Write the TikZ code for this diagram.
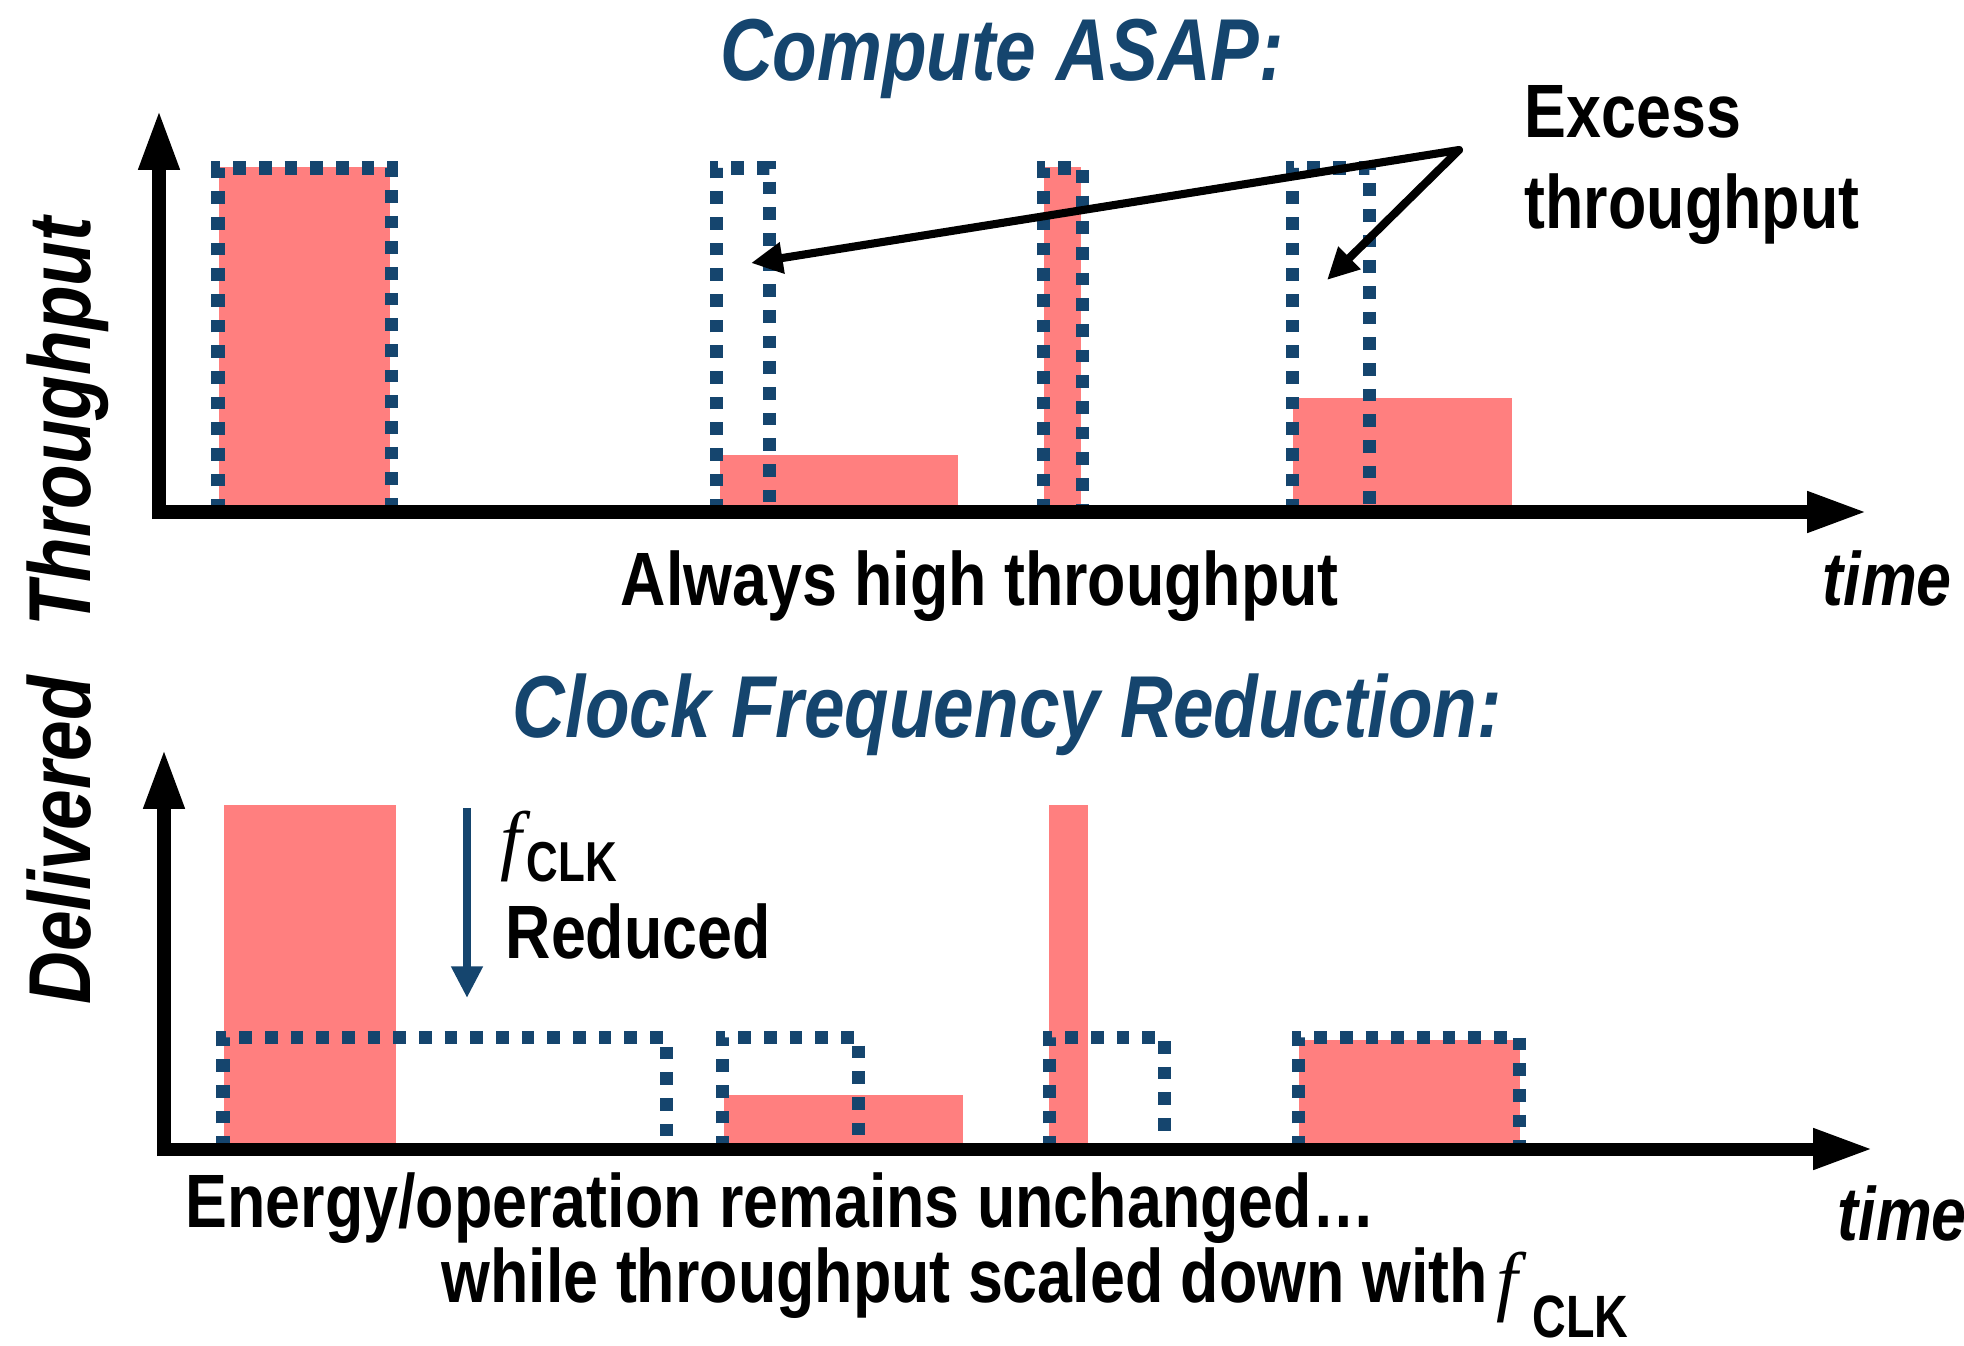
\documentclass[tikz,border=0pt]{standalone}
\usepackage{fontspec}
\setmainfont{Liberation Sans}
\newfontfamily\bodyfont[FakeStretch=0.83]{Liberation Sans}
\newfontfamily\titlefont[FakeStretch=0.83]{Liberation Sans}
\newfontfamily\clkfont[FakeStretch=0.78]{Liberation Sans}
\newfontfamily\ffont{Liberation Serif}
\usetikzlibrary{arrows.meta}
\definecolor{barpink}{RGB}{255,127,127}
\definecolor{darkblue}{RGB}{21,69,110}
\tikzset{
  axis/.style={line width=3.7pt, -{Triangle[length=17pt,width=10.8pt]}},
  dotbox/.style={draw=darkblue, line width=3.7pt, dash pattern=on 3.6pt off 3.7pt},
  bar/.style={fill=barpink},
  ptr/.style={line width=2.3pt, line cap=round, -{Triangle[length=9pt,width=8.5pt]}},
  body/.style={inner sep=0pt, anchor=base west, font=\bodyfont\fontsize{21.5}{24}\selectfont\bfseries},
  bodyit/.style={body, font=\bodyfont\fontsize{21.5}{24}\selectfont\bfseries\itshape},
  title/.style={inner sep=0pt, anchor=base, text=darkblue, font=\titlefont\fontsize{25}{30}\selectfont\bfseries\itshape},
  fsym/.style={inner sep=0pt, anchor=base west, font=\ffont\fontsize{22}{26}\selectfont\itshape},
  clk/.style={inner sep=0pt, anchor=base west, font=\clkfont\fontsize{#1}{18}\selectfont\bfseries},
}
\begin{document}
\begin{tikzpicture}[x=0.01cm, y=-0.01cm]
   \useasboundingbox (0,0) rectangle (1964,1346);
   % upper chart: compute ASAP
   \fill[bar] (219,167) rectangle (390,512);
   \fill[bar] (720,455) rectangle (958,512);
   \fill[bar] (1044,167) rectangle (1081,512);
   \fill[bar] (1293,398) rectangle (1512,512);
   \draw[dotbox] (218,512) |- (391,168) -- (391,512);
   \draw[dotbox] (716,512) |- (769,168) -- (769,512);
   \draw[dotbox] (1043,512) |- (1082,168) -- (1082,512);
   \draw[dotbox] (1292,512) |- (1369,168) -- (1369,512);
   \draw[axis] (159,519) -- (159,110);
   \draw[axis] (153,512) -- (1867,512);
   % lower chart: clock frequency reduction
   \fill[bar] (224,805) rectangle (396,1149);
   \fill[bar] (724,1095) rectangle (963,1149);
   \fill[bar] (1049,805) rectangle (1088,1149);
   \fill[bar] (1299,1040) rectangle (1520,1149);
   \draw[dotbox] (223,1149) |- (666,1037) -- (666,1149);
   \draw[dotbox] (722,1149) |- (858,1037) -- (858,1149);
   \draw[dotbox] (1049,1149) |- (1164,1037) -- (1164,1149);
   \draw[dotbox] (1298,1149) |- (1519,1037) -- (1519,1149);
   \draw[axis] (164,1156) -- (164,749);
   \draw[axis] (158,1149) -- (1873,1149);
   % titles and labels
   \node[title] (asap) at (1002,81) {Compute ASAP:};
   \node[title] (clkred) at (1007,737) {Clock Frequency Reduction:};
   \node[title, text=black, rotate=90] (ylab) at (90,611) {Delivered\hspace{14pt}Throughput};
   \node[body] (always) at (620,605) {Always high throughput};
   \node[bodyit] (time1) at (1822,605) {time};
   \node[body] (excess) at (1524,138) {Excess};
   \node[body] (excess2) at (1524,229) {throughput};
   \node[fsym] (f1) at (500,865) {f};
   \node[clk=16] (clk1) at (526,881) {CLK};
   \node[body] (reduced) at (505,958) {Reduced};
   \node[body] (energy) at (185,1227) {Energy/operation remains unchanged…};
   \node[bodyit] (time2) at (1837,1240) {time};
   \node[body] (scaled) at (441,1302) {while throughput scaled down with};
   \node[fsym] (f2) at (1496,1306) {f};
   \node[clk=17] (clk2) at (1532,1337) {CLK};
   % pointers
   \coordinate (src) at (1459,150);
   \coordinate (tipA) at (751,263);
   \coordinate (tipB) at (1327,280);
   \draw[ptr] (src) -- (tipA);
   \draw[ptr] (src) -- (tipB);
   \coordinate (fa) at (467,808);
   \coordinate (fb) at (467,998);
   \draw[ptr, darkblue, line cap=butt] (fa) -- (fb);
\end{tikzpicture}
\end{document}
